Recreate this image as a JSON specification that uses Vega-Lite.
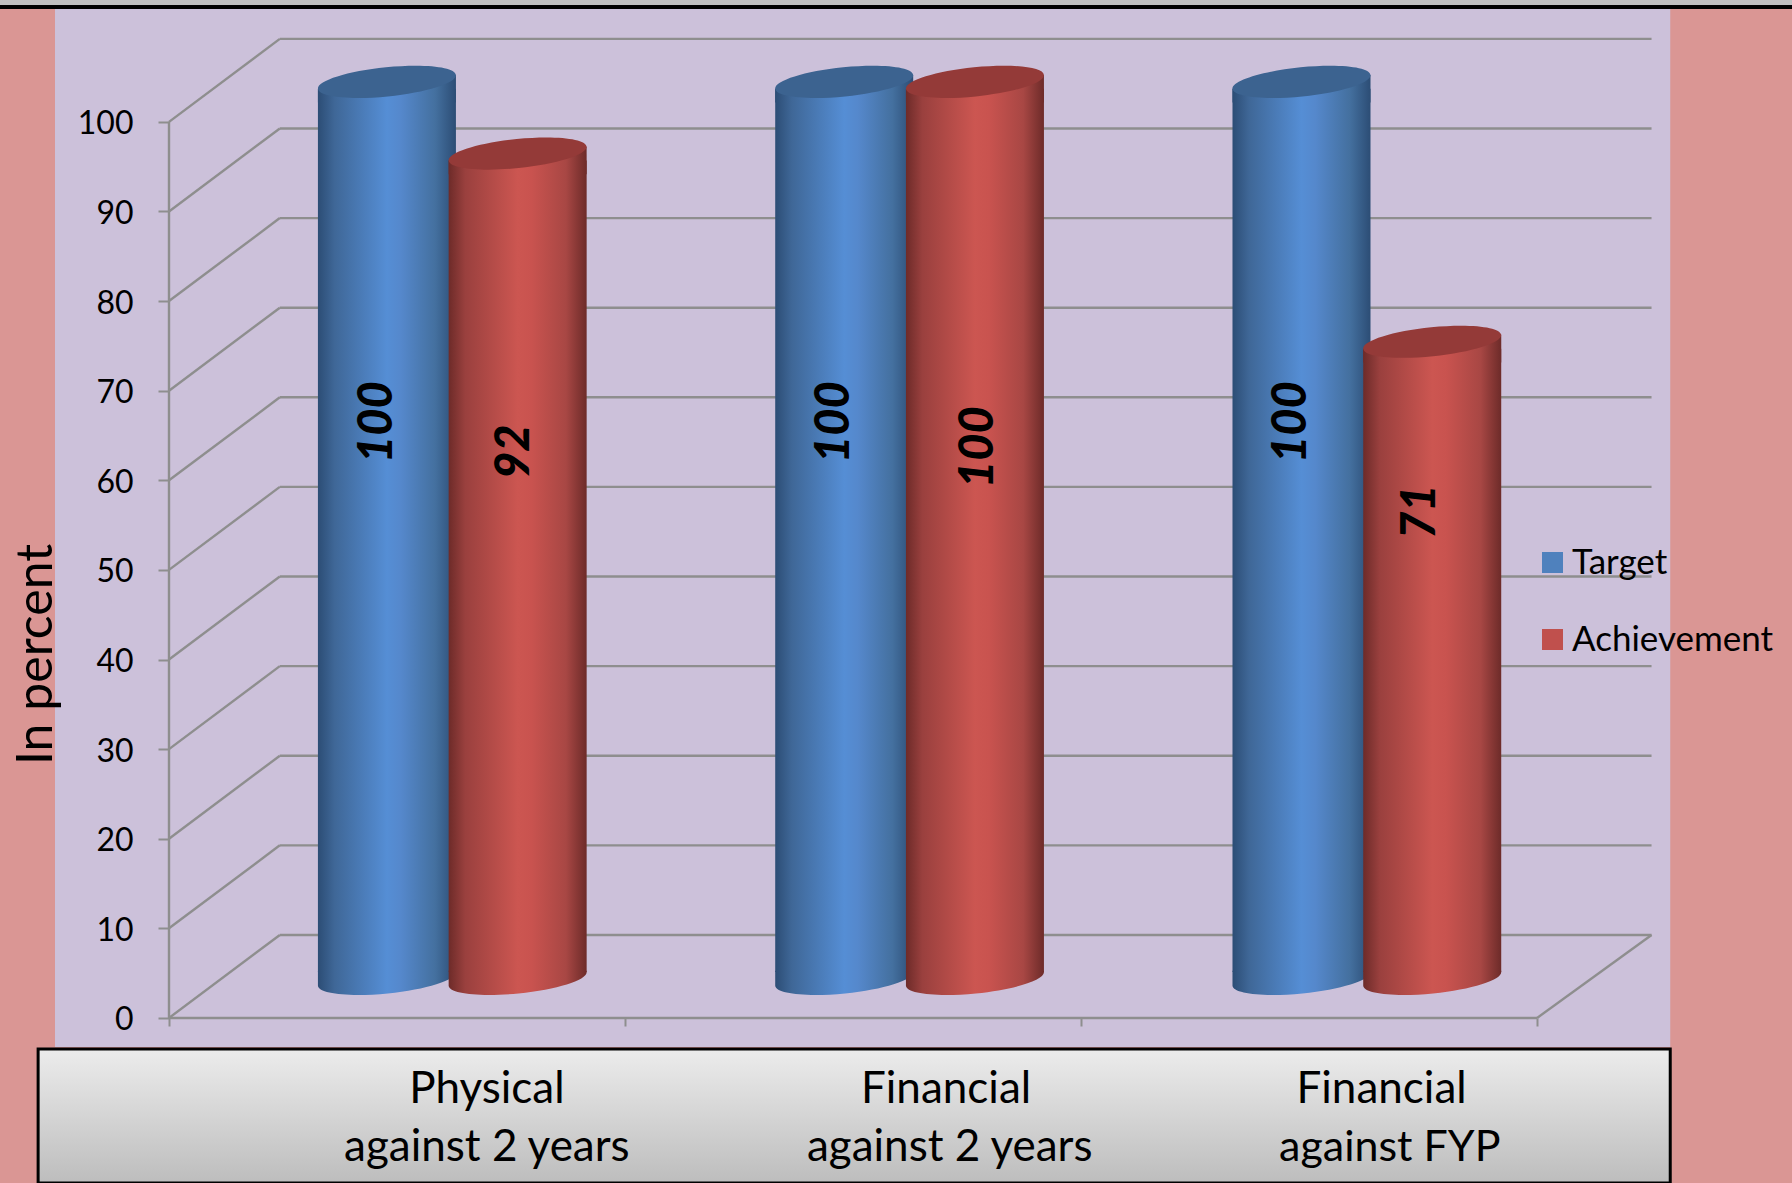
{"$schema":"https://vega.github.io/schema/vega-lite/v6.json","width":1792,"height":1183,"padding":0,"autosize":{"type":"none"},"background":"#DA9694","config":{"view":{"stroke":null},"text":{"font":"Lato"}},
"datasets":{
"bars":[{"category":"Physical against 2 years","series":"Target","value":100},{"category":"Physical against 2 years","series":"Achievement","value":92},{"category":"Financial against 2 years","series":"Target","value":100},{"category":"Financial against 2 years","series":"Achievement","value":100},{"category":"Financial against FYP","series":"Target","value":100},{"category":"Financial against FYP","series":"Achievement","value":71}],
"levels":[{"level":0},{"level":10},{"level":20},{"level":30},{"level":40},{"level":50},{"level":60},{"level":70},{"level":80},{"level":90},{"level":100}],
"one":[{"note":"frame"}]},
"resolve":{"scale":{"x":"independent"}},
"layer":[
{"layer":[
{"data":{"name":"one"},"mark":{"type":"rect","fill":"#BFBFBF"},"encoding":{"x":{"datum":-0.3706,"type":"quantitative","scale":{"domain":[-0.3706,3.559],"nice":false,"zero":false},"axis":{"values":[0,1,2,3],"labels":false,"domain":false,"grid":false,"title":null,"tickSize":8,"tickColor":"#8E8E8E","tickWidth":2,"offset":-165,"zindex":1}},"x2":{"datum":3.559},"y":{"datum":113.6,"type":"quantitative","scale":{"domain":[-18.42,113.6],"nice":false,"zero":false},"axis":{"values":[0,10,20,30,40,50,60,70,80,90,100],"domain":false,"grid":false,"title":"In percent","titleFont":"Lato","titleFontWeight":"normal","titleFontSize":50,"titleColor":"#000","titleX":-108,"titleY":654,"titleAngle":-90,"labelFont":"Lato","labelFontSize":32,"labelColor":"#000","labelPadding":25,"labelOffset":2,"tickSize":11,"tickColor":"#8E8E8E","tickWidth":2,"offset":-169,"zindex":1}},"y2":{"datum":113.05}}},
{"data":{"name":"one"},"mark":{"type":"rect","fill":"#000000"},"encoding":{"x":{"datum":-0.3706,"type":"quantitative"},"x2":{"datum":3.559},"y":{"datum":113.05,"type":"quantitative"},"y2":{"datum":112.6}}},
{"data":{"name":"one"},"mark":{"type":"rect","fill":"#CCC1DA"},"encoding":{"x":{"datum":-0.25,"type":"quantitative"},"x2":{"datum":3.292},"y":{"datum":112.6,"type":"quantitative"},"y2":{"datum":-3.24}}},
{"data":{"name":"one"},"mark":{"type":"rect","stroke":"#000000","strokeWidth":3,"fill":{"gradient":"linear","x1":0,"x2":0,"y1":0,"y2":1,"stops":[{"offset":0,"color":"#ECECEC"},{"offset":1,"color":"#BDBDBD"}]}},"encoding":{"x":{"datum":-0.287,"type":"quantitative"},"x2":{"datum":3.292},"y":{"datum":-3.46,"type":"quantitative"},"y2":{"datum":-18.42}}},
{"data":{"name":"levels"},"mark":{"type":"rule","stroke":"#8E8E8E","strokeWidth":2.4,"y2Offset":-83},"encoding":{"x":{"datum":0,"type":"quantitative"},"x2":{"datum":0.243},"y":{"field":"level","type":"quantitative"},"y2":{"field":"level"}}},
{"data":{"name":"levels"},"mark":{"type":"rule","stroke":"#8E8E8E","strokeWidth":2.4,"yOffset":-83},"encoding":{"x":{"datum":0.243,"type":"quantitative"},"x2":{"datum":3.251},"y":{"field":"level","type":"quantitative"}}},
{"data":{"name":"one"},"mark":{"type":"rule","stroke":"#8E8E8E","strokeWidth":2.4,"y2Offset":-83},"encoding":{"x":{"datum":3,"type":"quantitative"},"x2":{"datum":3.251},"y":{"datum":0,"type":"quantitative"},"y2":{"datum":0}}},
{"data":{"name":"one"},"mark":{"type":"rule","stroke":"#8E8E8E","strokeWidth":2.4},"encoding":{"x":{"datum":0,"type":"quantitative"},"x2":{"datum":3},"y":{"datum":0,"type":"quantitative"}}},
{"data":{"name":"one"},"mark":{"type":"rule","stroke":"#8E8E8E","strokeWidth":2.4},"encoding":{"x":{"datum":0,"type":"quantitative"},"y":{"datum":0,"type":"quantitative"},"y2":{"datum":100}}}
]},
{"data":{"name":"bars"},"encoding":{"x":{"field":"category","type":"nominal","sort":null,"axis":null,"scale":{"domain":["Physical against 2 years","Financial against 2 years","Financial against FYP"],"range":[223.65,1595.5],"paddingInner":0,"paddingOuter":0}},"xOffset":{"field":"series","type":"nominal","scale":{"domain":["Target","Achievement"],"paddingInner":0,"paddingOuter":0.749}}},
"layer":[
{"mark":{"type":"bar","width":130,"opacity":0},"encoding":{"y":{"field":"value","type":"quantitative"},"y2":{"datum":0},"color":{"field":"series","type":"nominal","scale":{"domain":["Target","Achievement"],"range":["#4F81BD","#C0504D"]},"legend":{"orient":"none","legendX":1535,"legendY":545,"title":null,"symbolType":"square","symbolSize":441,"symbolOpacity":1,"labelFont":"Lato","labelFontSize":35,"labelColor":"#000","labelOffset":2,"labelLimit":400,"rowPadding":41,"symbolStrokeWidth":0}}}},
{"transform":[{"filter":"datum.series==='Target'"}],"layer":[
{"mark":{"type":"point","filled":true,"opacity":1,"strokeWidth":0,"size":19044,"yOffset":-39,"shape":"M-1,-0.12L1,-0.12L1,-0.1A1,0.21,-5.8,0,1,-1,0.1Z","fill":{"gradient":"linear","x1":0,"x2":1,"y1":0,"y2":0,"stops":[{"offset":0,"color":"#2C4D75"},{"offset":0.12,"color":"#3F6797"},{"offset":0.5,"color":"#558ED5"},{"offset":0.6,"color":"#5588CC"},{"offset":0.85,"color":"#44709F"},{"offset":1,"color":"#2C4D75"}]}},"encoding":{"y":{"datum":0,"type":"quantitative"}}},
{"mark":{"type":"bar","width":138,"yOffset":-33,"y2Offset":-46,"fill":{"gradient":"linear","x1":0,"x2":1,"y1":0,"y2":0,"stops":[{"offset":0,"color":"#2C4D75"},{"offset":0.12,"color":"#3F6797"},{"offset":0.5,"color":"#558ED5"},{"offset":0.6,"color":"#5588CC"},{"offset":0.85,"color":"#44709F"},{"offset":1,"color":"#2C4D75"}]}},"encoding":{"y":{"field":"value","type":"quantitative"},"y2":{"datum":0}}},
{"mark":{"type":"point","filled":true,"opacity":1,"strokeWidth":0,"size":19044,"yOffset":-40,"shape":"M-1,0.1L1,-0.1L1,0.3L-1,0.3Z","fill":{"gradient":"linear","x1":0,"x2":1,"y1":0,"y2":0,"stops":[{"offset":0,"color":"#2C4D75"},{"offset":0.12,"color":"#3F6797"},{"offset":0.5,"color":"#558ED5"},{"offset":0.6,"color":"#5588CC"},{"offset":0.85,"color":"#44709F"},{"offset":1,"color":"#2C4D75"}]}},"encoding":{"y":{"field":"value","type":"quantitative"}}},
{"mark":{"type":"point","filled":true,"opacity":1,"strokeWidth":0,"size":19044,"yOffset":-40,"fill":"#3C6390","shape":"M-1,0.1A1,0.21,-5.8,1,1,1,-0.1A1,0.21,-5.8,1,1,-1,0.1Z"},"encoding":{"y":{"field":"value","type":"quantitative"}}}
]},
{"transform":[{"filter":"datum.series==='Achievement'"}],"layer":[
{"mark":{"type":"point","filled":true,"opacity":1,"strokeWidth":0,"size":19044,"yOffset":-39,"shape":"M-1,-0.12L1,-0.12L1,-0.1A1,0.21,-5.8,0,1,-1,0.1Z","fill":{"gradient":"linear","x1":0,"x2":1,"y1":0,"y2":0,"stops":[{"offset":0,"color":"#6D2B29"},{"offset":0.12,"color":"#9A403E"},{"offset":0.5,"color":"#CC5651"},{"offset":0.6,"color":"#C9534F"},{"offset":0.85,"color":"#A84744"},{"offset":1,"color":"#6D2B29"}]}},"encoding":{"y":{"datum":0,"type":"quantitative"}}},
{"mark":{"type":"bar","width":138,"yOffset":-33,"y2Offset":-46,"fill":{"gradient":"linear","x1":0,"x2":1,"y1":0,"y2":0,"stops":[{"offset":0,"color":"#6D2B29"},{"offset":0.12,"color":"#9A403E"},{"offset":0.5,"color":"#CC5651"},{"offset":0.6,"color":"#C9534F"},{"offset":0.85,"color":"#A84744"},{"offset":1,"color":"#6D2B29"}]}},"encoding":{"y":{"field":"value","type":"quantitative"},"y2":{"datum":0}}},
{"mark":{"type":"point","filled":true,"opacity":1,"strokeWidth":0,"size":19044,"yOffset":-40,"shape":"M-1,0.1L1,-0.1L1,0.3L-1,0.3Z","fill":{"gradient":"linear","x1":0,"x2":1,"y1":0,"y2":0,"stops":[{"offset":0,"color":"#6D2B29"},{"offset":0.12,"color":"#9A403E"},{"offset":0.5,"color":"#CC5651"},{"offset":0.6,"color":"#C9534F"},{"offset":0.85,"color":"#A84744"},{"offset":1,"color":"#6D2B29"}]}},"encoding":{"y":{"field":"value","type":"quantitative"}}},
{"mark":{"type":"point","filled":true,"opacity":1,"strokeWidth":0,"size":19044,"yOffset":-40,"fill":"#943A38","shape":"M-1,0.1A1,0.21,-5.8,1,1,1,-0.1A1,0.21,-5.8,1,1,-1,0.1Z"},"encoding":{"y":{"field":"value","type":"quantitative"}}}
]},
{"transform":[{"filter":"datum.series==='Target'"}],"mark":{"type":"text","font":"Lato","fontSize":47,"fontWeight":900,"fontStyle":"italic","angle":270,"baseline":"middle","align":"center","dy":-9,"color":"#000"},"encoding":{"y":{"datum":66.5,"type":"quantitative"},"text":{"field":"value","type":"quantitative"}}},
{"transform":[{"filter":"datum.series==='Achievement'&&datum.value===92"}],"mark":{"type":"text","font":"Lato","fontSize":47,"fontWeight":900,"fontStyle":"italic","angle":270,"baseline":"middle","align":"center","dy":-3,"color":"#000"},"encoding":{"y":{"datum":63.2,"type":"quantitative"},"text":{"field":"value","type":"quantitative"}}},
{"transform":[{"filter":"datum.series==='Achievement'&&datum.value===100"}],"mark":{"type":"text","font":"Lato","fontSize":47,"fontWeight":900,"fontStyle":"italic","angle":270,"baseline":"middle","align":"center","dy":4,"color":"#000"},"encoding":{"y":{"datum":63.7,"type":"quantitative"},"text":{"field":"value","type":"quantitative"}}},
{"transform":[{"filter":"datum.series==='Achievement'&&datum.value===71"}],"mark":{"type":"text","font":"Lato","fontSize":47,"fontWeight":900,"fontStyle":"italic","angle":270,"baseline":"middle","align":"center","dy":-11,"color":"#000"},"encoding":{"y":{"datum":56.5,"type":"quantitative"},"text":{"field":"value","type":"quantitative"}}}
]},
{"data":{"name":"one"},"layer":[
{"mark":{"type":"text","font":"Lato","fontSize":44,"baseline":"middle","align":"center","color":"#000"},"encoding":{"x":{"datum":0.697,"type":"quantitative","axis":null,"scale":{"domain":[-0.3706,3.559],"nice":false,"zero":false}},"y":{"datum":-8.0,"type":"quantitative"},"text":{"value":"Physical"}}},
{"mark":{"type":"text","font":"Lato","fontSize":44,"baseline":"middle","align":"center","color":"#000"},"encoding":{"x":{"datum":0.697,"type":"quantitative"},"y":{"datum":-14.5,"type":"quantitative"},"text":{"value":"against 2 years"}}},
{"mark":{"type":"text","font":"Lato","fontSize":44,"baseline":"middle","align":"center","color":"#000"},"encoding":{"x":{"datum":1.704,"type":"quantitative"},"y":{"datum":-8.0,"type":"quantitative"},"text":{"value":"Financial"}}},
{"mark":{"type":"text","font":"Lato","fontSize":44,"baseline":"middle","align":"center","color":"#000"},"encoding":{"x":{"datum":1.712,"type":"quantitative"},"y":{"datum":-14.5,"type":"quantitative"},"text":{"value":"against 2 years"}}},
{"mark":{"type":"text","font":"Lato","fontSize":44,"baseline":"middle","align":"center","color":"#000"},"encoding":{"x":{"datum":2.659,"type":"quantitative"},"y":{"datum":-8.0,"type":"quantitative"},"text":{"value":"Financial"}}},
{"mark":{"type":"text","font":"Lato","fontSize":43,"baseline":"middle","align":"center","color":"#000"},"encoding":{"x":{"datum":2.677,"type":"quantitative"},"y":{"datum":-14.5,"type":"quantitative"},"text":{"value":"against FYP"}}}
]}
]}
